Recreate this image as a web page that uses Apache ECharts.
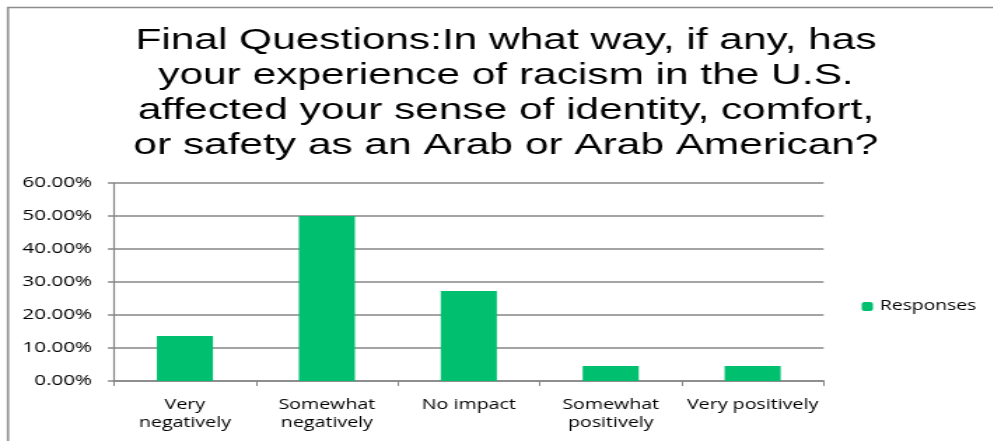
<!DOCTYPE html>
<html>
<head>
<meta charset="utf-8">
<script src="https://cdn.jsdelivr.net/npm/echarts@6/dist/echarts.min.js"></script>
<style>
html,body{margin:0;padding:0;background:#fff;overflow:hidden;}
#chart{width:709.3px;height:441px;transform:scaleX(1.4);transform-origin:0 0;}
</style>
</head>
<body>
<div id="chart"></div>
<script>
const titleText = "Final Questions:In what way, if any, has\nyour experience of racism in the U.S.\naffected your sense of identity, comfort,\nor safety as an Arab or Arab American?";
const categories = ["Very\nnegatively", "Somewhat\nnegatively", "No impact", "Somewhat\npositively", "Very positively"];
const seriesName = "Responses";
const values = [13.64, 50.00, 27.27, 4.55, 4.55];
const yTicks = [0, 10, 20, 30, 40, 50, 60];

const chart = echarts.init(document.getElementById('chart'), null, {renderer: 'canvas'});
const labelFont = "'Open Sans', 'Noto Sans', sans-serif";
chart.setOption({
  backgroundColor: '#ffffff',
  animation: false,
  graphic: [{
    type: 'polyline',
    shape: {points: [[5.7, 441], [5.7, 7.5], [709.3, 7.5]]},
    style: {stroke: '#8c8c8c', lineWidth: 1.6, fill: null}
  }],
  title: {
    text: titleText,
    left: 361.4,
    textAlign: 'center',
    top: 23,
    padding: 0,
    textStyle: {
      fontFamily: "'Liberation Sans', Arial, sans-serif",
      fontSize: 30.3,
      fontWeight: 'normal',
      color: '#000',
      lineHeight: 35
    }
  },
  legend: {
    data: [seriesName],
    left: 615.5,
    top: 299.5,
    padding: 0,
    itemWidth: 8,
    itemHeight: 9,
    itemGap: 6,
    textStyle: {fontFamily: labelFont, fontSize: 13.8, color: '#000'}
  },
  grid: {left: 81.4, right: 120.7, top: 183, bottom: 60, containLabel: false},
  xAxis: {
    type: 'category',
    data: categories,
    axisLine: {lineStyle: {color: '#868686', width: 1.5}},
    axisTick: {show: true, alignWithLabel: false, length: 5, lineStyle: {color: '#868686', width: 1}},
    axisLabel: {
      interval: 0,
      margin: 15,
      fontFamily: labelFont,
      fontSize: 14,
      color: '#000',
      lineHeight: 18
    }
  },
  yAxis: {
    type: 'value',
    min: yTicks[0],
    max: yTicks[yTicks.length - 1],
    interval: 10,
    axisLine: {show: true, lineStyle: {color: '#868686', width: 1.2}},
    axisTick: {show: true, length: 4.3, lineStyle: {color: '#868686', width: 1.5}},
    splitLine: {lineStyle: {color: '#868686', width: 1.5}},
    axisLabel: {
      margin: 15.7,
      fontFamily: labelFont,
      fontSize: 14.7,
      color: '#000',
      formatter: v => v.toFixed(2) + '%'
    }
  },
  series: [{
    name: seriesName,
    type: 'bar',
    data: values,
    barWidth: '39.5%',
    itemStyle: {color: '#00bf6f'}
  }]
});
</script>
</body>
</html>
